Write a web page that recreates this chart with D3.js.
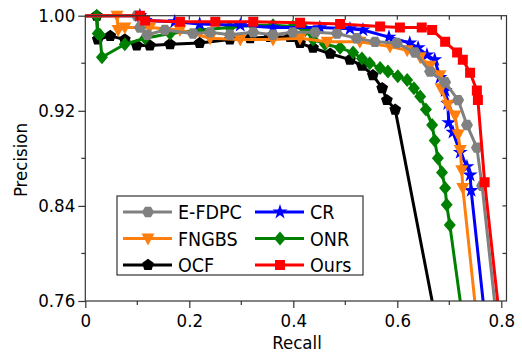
<!DOCTYPE html>
<html><head><meta charset="utf-8">
<script src="https://cdn.jsdelivr.net/npm/d3@7"></script>
<style>body{margin:0;background:#fff}svg{display:block}text{font-family:"DejaVu Sans Condensed","DejaVu Sans",sans-serif;fill:#000}</style>
</head><body><svg id="c" width="522" height="353"></svg>
<script>
const seriesNames = ["E-FDPC","FNGBS","OCF","CR","ONR","Ours"];
const seriesColors = ["#808080","#ff7f0e","#000000","#0000ff","#008000","#ff0000"];

const efdpcRecall = [0,0.099,0.105,0.119,0.153,0.207,0.240,0.278,0.323,0.361,0.399,0.442,0.484,0.522,0.557,0.599,0.634,0.663,0.692,0.717,0.734,0.753,0.763,0.787,0.792];
const efdpcPrec   = [1,1,0.990,0.984,0.988,0.985,0.986,0.984,0.986,0.984,0.986,0.986,0.985,0.981,0.978,0.977,0.969,0.953,0.944,0.929,0.908,0.889,0.857,0.760,0.740];

const fngbsRecall = [0,0.061,0.063,0.076,0.124,0.182,0.240,0.298,0.361,0.413,0.465,0.528,0.586,0.619,0.644,0.663,0.682,0.684,0.697,0.711,0.717,0.721,0.724,0.726,0.749,0.754];
const fngbsPrec   = [1,1,0.988,0.990,0.990,0.988,0.981,0.980,0.980,0.981,0.978,0.978,0.974,0.971,0.965,0.958,0.950,0.939,0.925,0.916,0.900,0.887,0.870,0.855,0.760,0.740];

const ocfRecall = [0,0.022,0.024,0.048,0.076,0.099,0.124,0.163,0.220,0.278,0.317,0.355,0.394,0.413,0.438,0.471,0.509,0.532,0.553,0.571,0.580,0.596,0.667,0.672];
const ocfPrec   = [1,1,0.980,0.983,0.980,0.975,0.975,0.976,0.977,0.980,0.981,0.982,0.982,0.977,0.973,0.968,0.963,0.958,0.950,0.939,0.929,0.921,0.760,0.740];

const crRecall = [0,0.105,0.115,0.172,0.220,0.298,0.361,0.451,0.509,0.534,0.584,0.624,0.640,0.657,0.672,0.682,0.692,0.697,0.699,0.707,0.721,0.734,0.740,0.742,0.765,0.770];
const crPrec   = [1,1,0.996,0.995,0.993,0.992,0.990,0.990,0.989,0.988,0.982,0.977,0.973,0.967,0.963,0.948,0.937,0.926,0.910,0.902,0.885,0.873,0.866,0.853,0.760,0.740];

const onrRecall = [0,0.022,0.024,0.028,0.032,0.076,0.115,0.163,0.220,0.278,0.323,0.361,0.399,0.423,0.438,0.461,0.490,0.515,0.532,0.547,0.567,0.582,0.601,0.619,0.632,0.644,0.655,0.667,0.672,0.678,0.686,0.692,0.695,0.701,0.721,0.726];
const onrPrec   = [1,1,0.985,0.984,0.965,0.976,0.981,0.985,0.988,0.990,0.992,0.992,0.991,0.988,0.980,0.976,0.973,0.969,0.964,0.960,0.956,0.953,0.949,0.946,0.939,0.932,0.921,0.908,0.895,0.880,0.868,0.855,0.841,0.824,0.760,0.740];

const oursRecall = [0,0.105,0.115,0.182,0.250,0.323,0.413,0.490,0.567,0.605,0.647,0.667,0.692,0.715,0.726,0.740,0.753,0.755,0.768,0.793,0.797];
const oursPrec   = [1,1,0.996,0.995,0.995,0.995,0.994,0.993,0.991,0.990,0.990,0.988,0.978,0.969,0.963,0.952,0.937,0.929,0.860,0.760,0.745];

const xTicks = [0,0.2,0.4,0.6,0.8];
const xTickLabels = ["0","0.2","0.4","0.6","0.8"];
const yTicks = [0.76,0.84,0.92,1.00];
const yTickLabels = ["0.76","0.84","0.92","1.00"];

const svg = d3.select("#c");
const L=85.3, R=506.5, T=15.7, B=301;
const x = d3.scaleLinear().domain([0,0.81]).range([L,R]);
const y = d3.scaleLinear().domain([0.76,1.0]).range([B,T]);

function poly(n, r, rot){const p=[];for(let i=0;i<n;i++){const a=rot+i*2*Math.PI/n;p.push([r*Math.cos(a),r*Math.sin(a)]);}return "M"+p.map(d=>d.join(",")).join("L")+"Z";}
const shapes = {
  hex: ()=>poly(6,6,0),
  tri: ()=>"M-6.5,-5L6.5,-5L0,7Z",
  pent: ()=>poly(5,6.2,-Math.PI/2),
  star: ()=>d3.symbol(d3.symbolStar,70)(),
  diamond: ()=>"M0,-7L6,0L0,7L-6,0Z",
  square: ()=>"M-5,-5L5,-5L5,5L-5,5Z"
};
const seriesShapes = ["hex","tri","pent","star","diamond","square"];

const series = [
  {r:efdpcRecall,p:efdpcPrec},
  {r:fngbsRecall,p:fngbsPrec},
  {r:ocfRecall,p:ocfPrec},
  {r:crRecall,p:crPrec},
  {r:onrRecall,p:onrPrec},
  {r:oursRecall,p:oursPrec}
].map((s,i)=>({name:seriesNames[i],color:seriesColors[i],shape:seriesShapes[i],pts:s.r.map((v,j)=>[v,s.p[j]])}));

svg.append("clipPath").attr("id","clip").append("rect").attr("x",L).attr("y",T-8).attr("width",R-L).attr("height",B-T+8);
const g = svg.append("g").attr("clip-path","url(#clip)");
const line = d3.line().x(d=>x(d[0])).y(d=>y(d[1]));
const order = [2,4,3,1,0,5];
order.forEach(i=>{
  const s=series[i];
  g.append("path").attr("d",line(s.pts)).attr("fill","none").attr("stroke",s.color).attr("stroke-width",3).attr("stroke-linejoin","round");
  g.selectAll(null).data(s.pts.slice(1,-2)).enter().append("path")
    .attr("d",shapes[s.shape]()).attr("transform",d=>`translate(${x(d[0])},${y(d[1])})`).attr("fill",s.color);
});

svg.append("rect").attr("x",L).attr("y",T).attr("width",R-L).attr("height",B-T).attr("fill","none").attr("stroke","#333").attr("stroke-width",1.2);
const xAxis = d3.axisBottom(x).tickValues(xTicks).tickFormat((d,i)=>xTickLabels[i]).tickSize(7).tickPadding(6);
const gx = svg.append("g").attr("transform",`translate(0,${B})`).call(xAxis);
const yAxis = d3.axisLeft(y).tickValues(yTicks).tickFormat((d,i)=>yTickLabels[i]).tickSize(7).tickPadding(3);
const gy = svg.append("g").attr("transform",`translate(${L},0)`).call(yAxis);
[gx,gy].forEach(a=>{a.select(".domain").remove();a.selectAll("line").attr("stroke","#333").attr("stroke-width",1.2);a.selectAll("text").style("font-size","18.5px").attr("fill","#000");});
gx.selectAll("text").attr("dy","0.71em");
const xMinor=[0.1,0.3,0.5,0.7];
const yMinor=[0.80,0.88,0.96];
xMinor.forEach(v=>svg.append("line").attr("x1",x(v)).attr("x2",x(v)).attr("y1",B).attr("y2",B+4).attr("stroke","#333").attr("stroke-width",1.2));
yMinor.forEach(v=>svg.append("line").attr("y1",y(v)).attr("y2",y(v)).attr("x1",L).attr("x2",L-4).attr("stroke","#333").attr("stroke-width",1.2));
[0.1,0.2,0.3,0.4,0.5,0.6,0.7,0.8].forEach(v=>svg.append("line").attr("x1",x(v)).attr("x2",x(v)).attr("y1",T).attr("y2",T+4).attr("stroke","#333").attr("stroke-width",1.2));
[0.80,0.84,0.88,0.92,0.96].forEach(v=>svg.append("line").attr("y1",y(v)).attr("y2",y(v)).attr("x1",R).attr("x2",R-4).attr("stroke","#333").attr("stroke-width",1.2));

svg.append("text").attr("x",297).attr("y",349).attr("text-anchor","middle").style("font-size","18.5px").text("Recall");
svg.append("text").attr("transform","translate(27,160) rotate(-90)").attr("text-anchor","middle").style("font-size","18.5px").text("Precision");

const lg = svg.append("g");
lg.append("rect").attr("x",117).attr("y",196).attr("width",246).attr("height",79).attr("fill","#fff").attr("stroke","#333").attr("stroke-width",1.2);
series.forEach((s,i)=>{
  const col=Math.floor(i/3), row=i%3;
  const x0=col?255:123, yy=212+row*26.5;
  lg.append("line").attr("x1",x0).attr("x2",x0+49).attr("y1",yy).attr("y2",yy).attr("stroke",s.color).attr("stroke-width",3);
  lg.append("path").attr("d",shapes[s.shape]()).attr("transform",`translate(${x0+25},${yy})`).attr("fill",s.color);
  lg.append("text").attr("x",x0+55).attr("y",yy).attr("dy","0.36em").style("font-size","19.5px").text(s.name);
});
</script></body></html>
